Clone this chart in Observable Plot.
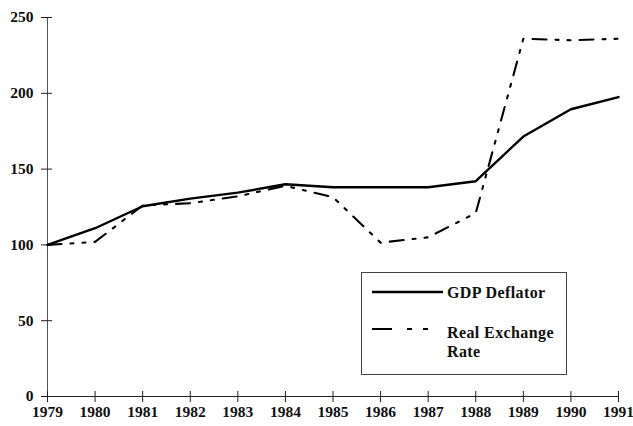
<!DOCTYPE html>
<html>
<head>
<meta charset="utf-8">
<script src="https://cdn.jsdelivr.net/npm/d3@7"></script>
<script src="https://cdn.jsdelivr.net/npm/@observablehq/plot@0.6"></script>
<style>
  html, body { margin: 0; padding: 0; background: #fff; }
  #wrap { position: relative; width: 633px; height: 426px; font-family: "Liberation Serif", "Times New Roman", serif; }
  #wrap svg.chart text { font-size: 15.5px !important; font-weight: bold; font-family: "Liberation Serif", "Times New Roman", serif; }
  #legend { position: absolute; left: 0; top: 0; }
</style>
</head>
<body>
<div id="wrap"></div>
<script>
const years = [1979,1980,1981,1982,1983,1984,1985,1986,1987,1988,1989,1990,1991];
const gdpDeflator = [100,111,125.5,130.5,134.5,140,138,138,138,142,171.5,189.5,197.5];
const realExchangeRate = [100,102,126,127.5,132,139,131.5,101.5,105,121,236,235,236];
const yTicks = [0,50,100,150,200,250];
const seriesNames = ["GDP Deflator", "Real Exchange Rate"];

const rows = [];
years.forEach((yr, i) => {
  rows.push({year: yr, value: gdpDeflator[i], series: seriesNames[0]});
  rows.push({year: yr, value: realExchangeRate[i], series: seriesNames[1]});
});

const dash = "14,9,3,9,3,9";

const chart = Plot.plot({
  width: 633,
  height: 426,
  marginLeft: 47,
  marginRight: 15,
  marginTop: 17,
  marginBottom: 30,
  style: {fontFamily: "'Liberation Serif', 'Times New Roman', serif", fontWeight: "bold", color: "#111", background: "#fff"},
  x: {domain: [1979, 1991]},
  y: {domain: [0, 250]},
  marks: [
    Plot.ruleX([1979], {stroke: "#555", strokeWidth: 1}),
    Plot.ruleY([0], {stroke: "#222", strokeWidth: 1.2}),
    Plot.axisY({ticks: yTicks, tickSize: 11, dx: 5, tickPadding: 8, tickFormat: d => String(d), label: null, stroke: "#222"}),
    Plot.axisX({ticks: years, tickSize: 11, dy: -5, tickPadding: 3, tickFormat: d => String(d), label: null, stroke: "#222"}),
    Plot.line(rows.filter(d => d.series === seriesNames[0]), {x: "year", y: "value", stroke: "#000", strokeWidth: 2.4}),
    Plot.line(rows.filter(d => d.series === seriesNames[1]), {x: "year", y: "value", stroke: "#000", strokeWidth: 2.1, strokeDasharray: dash})
  ]
});
chart.classList.add("chart");

const wrap = document.getElementById("wrap");
wrap.appendChild(chart);

// Legend overlay (box inside plot area, as in the reference)
const lg = d3.create("svg").attr("id", "legend").attr("width", 633).attr("height", 426)
  .style("font-family", "'Liberation Serif', 'Times New Roman', serif")
  .style("font-weight", "bold").style("font-size", "16px");
lg.append("rect").attr("x", 361.5).attr("y", 272.5).attr("width", 205).attr("height", 102)
  .attr("fill", "#fff").attr("stroke", "#444").attr("stroke-width", 1);
lg.append("line").attr("x1", 372).attr("x2", 443).attr("y1", 292).attr("y2", 292)
  .attr("stroke", "#000").attr("stroke-width", 2.4);
lg.append("text").attr("x", 447).attr("y", 297.5).attr("fill", "#111").style("letter-spacing", "0.4px").text(seriesNames[0]);
lg.append("line").attr("x1", 372).attr("x2", 429).attr("y1", 329).attr("y2", 329)
  .attr("stroke", "#000").attr("stroke-width", 2.2).attr("stroke-dasharray", "20,15,5,11,5,20");
const t2 = lg.append("text").attr("x", 447).attr("y", 338).attr("fill", "#111").style("letter-spacing", "0.4px");
t2.append("tspan").attr("x", 447).attr("y", 338).text("Real Exchange");
t2.append("tspan").attr("x", 447).attr("y", 357).text("Rate");
wrap.appendChild(lg.node());
</script>
</body>
</html>
